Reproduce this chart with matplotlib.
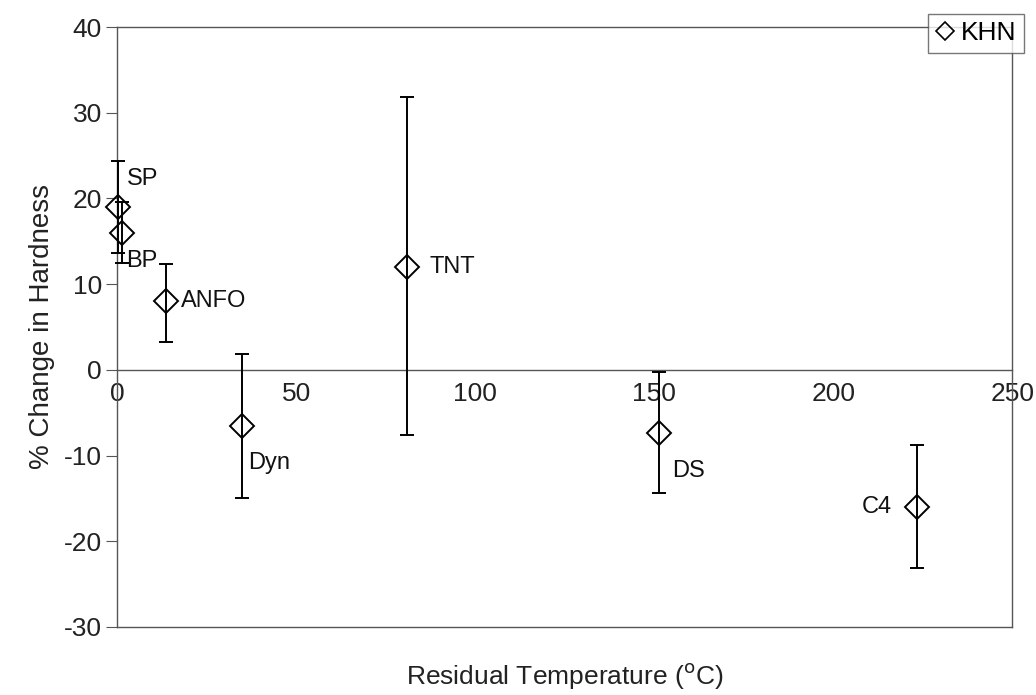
import matplotlib
matplotlib.use("Agg")
import matplotlib.pyplot as plt
from matplotlib.lines import Line2D

plt.rcParams['font.family'] = ['Liberation Sans', 'DejaVu Sans']
plt.rcParams['axes.unicode_minus'] = False

labels = ["SP", "BP", "ANFO", "Dyn", "TNT", "DS", "C4"]
temps = [0.3, 1.3, 13.7, 35.0, 81.0, 151.4, 223.5]
khn = [19.0, 16.0, 8.0, -6.5, 12.0, -7.4, -16.0]
err_hi = [24.4, 19.6, 12.4, 1.8, 31.9, -0.2, -8.8]
err_lo = [13.6, 12.5, 3.2, -14.9, -7.6, -14.4, -23.1]

fig = plt.figure(figsize=(10.36, 6.95), dpi=100)
ax = fig.add_axes([0.113, 0.098, 0.864, 0.863])

yerr = [[k - lo for k, lo in zip(khn, err_lo)], [hi - k for k, hi in zip(khn, err_hi)]]
cont = ax.errorbar(temps, khn, yerr=yerr, fmt='D', mfc='none', mec='black', mew=1.4,
                   ms=12.5, ecolor='black', elinewidth=1.4, capsize=5, capthick=1.4,
                   zorder=3)
for art in [cont.lines[0], *cont.lines[1], *cont.lines[2]]:
    art.set_clip_on(False)

offsets = {"SP": (6, 20), "BP": (3, -20), "ANFO": (11, 0), "Dyn": (4, -27),
           "TNT": (16, 0), "DS": (9, -27), "C4": (-18, 0)}
for lab, x, y in zip(labels, temps, khn):
    dx, dy = offsets[lab]
    ha = 'right' if dx < 0 else 'left'
    ax.annotate(lab, (x, y), xytext=(dx, dy), textcoords='offset points',
                ha=ha, va='center', fontsize=17, color='#111111')

ax.set_xlim(0, 250)
ax.set_ylim(-30, 40)
ax.set_xticks([0, 50, 100, 150, 200, 250])
ax.set_yticks(range(-30, 41, 10))
ax.spines['bottom'].set_position(('data', 0))
for s in ax.spines.values():
    s.set_color('#555555')
    s.set_linewidth(1.0)
ax.plot([0, 1], [0, 0], transform=ax.transAxes, color='#555555', lw=1.0, clip_on=False)
ax.tick_params(axis='y', direction='out', length=8, color='#555555', labelsize=19, pad=3)
ax.tick_params(axis='x', direction='in', length=0, labelsize=19, pad=9)
for t in ax.get_xticklabels() + ax.get_yticklabels():
    t.set_color('#222222')

ax.set_ylabel('% Change in Hardness', fontsize=20, labelpad=6, color='#222222')
fig.text(0.113 + 0.864 / 2, 0.006, 'Residual Temperature ($^{\\mathrm{o}}$C)', ha='center',
         va='bottom', fontsize=19, color='#222222')

proxy = Line2D([], [], ls='none', marker='D', mfc='none', mec='black', mew=1.2, ms=9)
leg = ax.legend([proxy], ['KHN'], loc='upper right', bbox_to_anchor=(0.988, 0.980),
                bbox_transform=fig.transFigure, fontsize=19, frameon=True, fancybox=False,
                handlelength=0.7, handletextpad=0.25, borderpad=0.28, borderaxespad=0)
leg.get_frame().set_edgecolor('#555555')
leg.get_frame().set_linewidth(1.0)
leg.set_zorder(5)

fig.savefig('out.png', dpi=100)
